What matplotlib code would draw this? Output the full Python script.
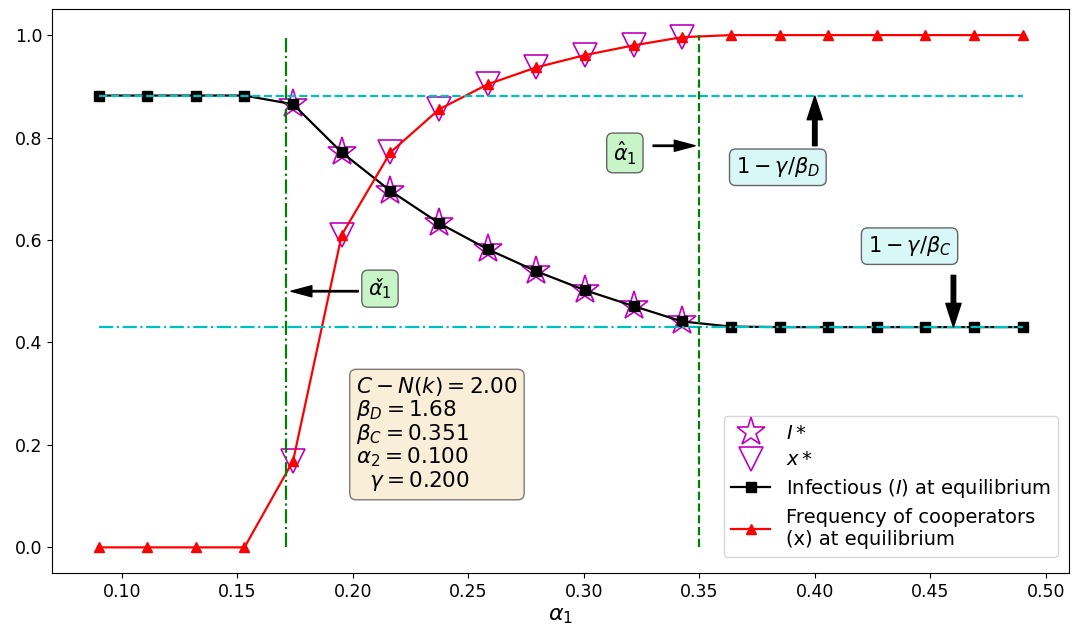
import numpy as np
import matplotlib
matplotlib.use('Agg')
import matplotlib.pyplot as plt

# alpha_1 values (20 points)
alpha1 = np.linspace(0.09, 0.49, 20)
# infectious fraction at equilibrium
infected = [0.882, 0.882, 0.882, 0.882, 0.865, 0.771, 0.696, 0.633, 0.582, 0.539,
            0.502, 0.471, 0.441, 0.431, 0.430, 0.430, 0.430, 0.430, 0.430, 0.430]
# frequency of cooperators at equilibrium
coop = [0.0, 0.0, 0.0, 0.0, 0.169, 0.610, 0.771, 0.855, 0.904, 0.937,
        0.961, 0.980, 0.996, 1.0, 1.0, 1.0, 1.0, 1.0, 1.0, 1.0]
# analytic points (I*, x*) inside the coexistence region
star_idx = list(range(4, 13))

I_D = 1 - 0.200 / 1.68
I_C = 1 - 0.200 / 0.351
alpha_check = 0.171
alpha_hat = 0.350

fig = plt.figure(figsize=(10.79, 6.33), dpi=100)
ax = fig.add_axes([0.0485, 0.0948, 0.9422, 0.8902])

ax.plot(alpha1[star_idx], [infected[i] for i in star_idx], ls='none', marker='*',
        ms=21, mfc='none', mec='m', mew=1.2, label=r'$I*$')
ax.plot(alpha1[star_idx], [coop[i] for i in star_idx], ls='none', marker='v',
        ms=17, mfc='none', mec='m', mew=1.2, label=r'$x*$')
ax.plot(alpha1, infected, color='k', lw=1.6, marker='s', ms=7,
        label=r'Infectious ($I$) at equilibrium')
ax.plot(alpha1, coop, color='r', lw=1.6, marker='^', ms=7.5,
        label='Frequency of cooperators\n(x) at equilibrium')

ax.hlines(I_D, alpha1[0], alpha1[-1], colors='c', linestyles='--', lw=1.6)
ax.hlines(I_C, alpha1[0], alpha1[-1], colors='c', linestyles='-.', lw=1.6)
ax.vlines(alpha_check, 0, 1, colors='g', linestyles='-.', lw=1.6)
ax.vlines(alpha_hat, 0, 1, colors='g', linestyles='--', lw=1.6)

green_box = dict(boxstyle='round', facecolor='#c8f5c8', edgecolor='0.4')
cyan_box = dict(boxstyle='round', facecolor='#d8f8f8', edgecolor='0.4')
thin = dict(facecolor='k', edgecolor='k', width=1.0, headwidth=8, headlength=15, shrink=0)
thick = dict(facecolor='k', edgecolor='k', width=3.2, headwidth=11, headlength=17, shrink=0)

ax.text(0.2118, 0.505, '\u03b1\u030c$_1$', fontsize=15, fontstyle='italic',
        ha='center', va='center', bbox=green_box)
ax.annotate('', xy=(0.1733, 0.50), xytext=(0.2024, 0.50), arrowprops=thin)
ax.text(0.3178, 0.770, r'$\hat{\alpha}_1$', fontsize=15, ha='center', va='center', bbox=green_box)
ax.annotate('', xy=(0.3482, 0.784), xytext=(0.330, 0.784), arrowprops=thin)
ax.text(0.384, 0.742, r'$1-\gamma/\beta_D$', fontsize=15, ha='center', va='center', bbox=cyan_box)
ax.annotate('', xy=(0.40, I_D), xytext=(0.40, 0.784), arrowprops=thick)
ax.text(0.441, 0.588, r'$1-\gamma/\beta_C$', fontsize=15, ha='center', va='center', bbox=cyan_box)
ax.annotate('', xy=(0.460, I_C), xytext=(0.460, 0.531), arrowprops=thick)

params = '\n'.join([r'$C-N(k)=2.00$', r'$\beta_D=1.68$', r'$\beta_C=0.351$',
                    r'$\alpha_2=0.100$', r'  $\gamma=0.200$'])
ax.text(0.2015, 0.337, params, fontsize=15.5, ha='left', va='top', linespacing=1.0,
        bbox=dict(boxstyle='round', facecolor='wheat', alpha=0.5, edgecolor='k'))

ax.set_xlabel(r'$\alpha_1$', fontsize=16)
ax.tick_params(axis='both', labelsize=12.5)
ax.legend(loc='lower right', bbox_to_anchor=(0.9895, 0.029), borderaxespad=0, fontsize=14,
          labelspacing=0.4, borderpad=0.4)

fig.savefig('out.png', dpi=100)
